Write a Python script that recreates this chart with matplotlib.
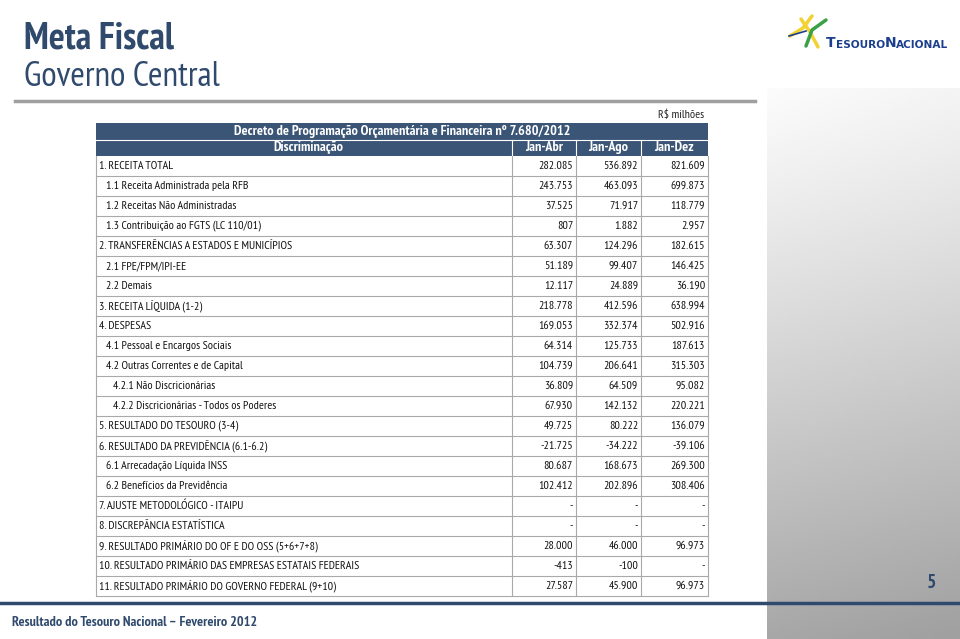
import numpy as np
import matplotlib
matplotlib.use("Agg")
import matplotlib.pyplot as plt

# fonte condensada parecida com a do slide, com alternativas
plt.rcParams['font.family'] = ['PT Sans Narrow', 'Fira Sans Condensed', 'Asap Condensed',
                               'Barlow Condensed', 'Liberation Sans', 'DejaVu Sans']

BLUE = '#2f4a6d'
HEAD = '#3b5577'
GRID = '#a9a9a9'
LOGO = '#1b3f8e'

# dados da tabela
labels = [
    "1. RECEITA TOTAL",
    "1.1 Receita Administrada pela RFB",
    "1.2 Receitas Não Administradas",
    "1.3 Contribuição ao FGTS (LC 110/01)",
    "2. TRANSFERÊNCIAS A ESTADOS E MUNICÍPIOS",
    "2.1 FPE/FPM/IPI-EE",
    "2.2 Demais",
    "3. RECEITA LÍQUIDA (1-2)",
    "4. DESPESAS",
    "4.1 Pessoal e Encargos Sociais",
    "4.2 Outras Correntes e de Capital",
    "4.2.1 Não Discricionárias",
    "4.2.2 Discricionárias - Todos os Poderes",
    "5. RESULTADO DO TESOURO (3-4)",
    "6. RESULTADO DA PREVIDÊNCIA (6.1-6.2)",
    "6.1 Arrecadação Líquida INSS",
    "6.2 Benefícios da Previdência",
    "7. AJUSTE METODOLÓGICO - ITAIPU",
    "8. DISCREPÂNCIA ESTATÍSTICA",
    "9. RESULTADO PRIMÁRIO DO OF E DO OSS (5+6+7+8)",
    "10. RESULTADO PRIMÁRIO DAS EMPRESAS ESTATAIS FEDERAIS",
    "11. RESULTADO PRIMÁRIO DO GOVERNO FEDERAL (9+10)",
]
levels = [0, 1, 1, 1, 0, 1, 1, 0, 0, 1, 1, 2, 2, 0, 0, 1, 1, 0, 0, 0, 0, 0]
jan_abr = ["282.085", "243.753", "37.525", "807", "63.307", "51.189", "12.117", "218.778",
           "169.053", "64.314", "104.739", "36.809", "67.930", "49.725", "-21.725", "80.687",
           "102.412", "-", "-", "28.000", "-413", "27.587"]
jan_ago = ["536.892", "463.093", "71.917", "1.882", "124.296", "99.407", "24.889", "412.596",
           "332.374", "125.733", "206.641", "64.509", "142.132", "80.222", "-34.222", "168.673",
           "202.896", "-", "-", "46.000", "-100", "45.900"]
jan_dez = ["821.609", "699.873", "118.779", "2.957", "182.615", "146.425", "36.190", "638.994",
           "502.916", "187.613", "315.303", "95.082", "220.221", "136.079", "-39.106", "269.300",
           "308.406", "-", "-", "96.973", "-", "96.973"]
periods = ["Jan-Abr", "Jan-Ago", "Jan-Dez"]

fig = plt.figure(figsize=(9.6, 6.39), dpi=100)
ax = fig.add_axes([0, 0, 1, 1])
ax.set_xlim(0, 960)
ax.set_ylim(639, 0)
ax.axis('off')

# painel cinza a direita
gy = np.linspace(0, 1, 200)[:, None]
gx = np.linspace(0, 1, 60)[None, :]
grad = np.clip(0.985 - 0.33 * gy ** 1.1 - 0.03 * gx, 0, 1)
ax.imshow(grad, cmap='gray', vmin=0, vmax=1, extent=[767, 960, 639, 88],
          aspect='auto', zorder=0, interpolation='bilinear')

# titulo
ax.text(24, 39, "Meta Fiscal", fontsize=27, fontweight='bold', color=BLUE, va='center')
ax.text(24, 77, "Governo Central", fontsize=25.5, color=BLUE, va='center')
ax.plot([15, 755], [101, 101], color='#a0a0a0', lw=2.5, zorder=2)

# logo (versaletes montados em sequencia)
prev = ax.text(826, 47, "T", fontsize=10, fontweight='bold', color=LOGO,
               va='baseline', family='DejaVu Sans')
for part, size in [("ESOURO", 7.6), ("N", 10), ("ACIONAL", 7.6)]:
    prev = ax.annotate(part, xy=(1, 0), xycoords=prev, fontsize=size, fontweight='bold',
                       color=LOGO, va='bottom', ha='left', family='DejaVu Sans')
ax.plot([790, 803, 812], [36, 28, 16], color='#f2d230', lw=2.5, solid_capstyle='round')
ax.plot([801, 810, 818], [19, 32, 47], color='#f2d230', lw=2.5, solid_capstyle='round')
ax.plot([806, 812, 826], [46, 30, 20], color='#3aa048', lw=2.5, solid_capstyle='round')
ax.plot([789, 806], [36, 31], color=LOGO, lw=1.2)

# tabela
x0, x1, x2, x3, x4 = 96, 512, 576, 641, 708
top = 123
hh = 16.5
rh = 20
fs = 8.6
hfs = 10.2
ax.text(x4 - 4, 115, "R$ milhões", fontsize=fs, ha='right', va='center', color='#222222')
ax.add_patch(plt.Rectangle((x0, top), x4 - x0, 2 * hh, facecolor=HEAD, edgecolor='none'))
ax.text((x0 + x4) / 2 + 0.5, top + hh / 2, "Decreto de Programação Orçamentária e Financeira nº 7.680/2012",
        fontsize=hfs, fontweight='bold', color='white', ha='center', va='center')
ax.plot([x0, x4], [top + hh, top + hh], color='white', lw=0.8)
ax.text((x0 + x1) / 2 + 4, top + 1.5 * hh, "Discriminação", fontsize=hfs, fontweight='bold',
        color='white', ha='center', va='center')
cols = [x1, x2, x3, x4]
for i, p in enumerate(periods):
    ax.text((cols[i] + cols[i + 1]) / 2, top + 1.5 * hh, p, fontsize=hfs, fontweight='bold',
            color='white', ha='center', va='center')
for xc in [x1, x2, x3]:
    ax.plot([xc, xc], [top + hh, top + 2 * hh], color='white', lw=0.8)

y_start = top + 2 * hh
n = len(labels)
for i in range(n):
    yc = y_start + (i + 0.5) * rh
    ax.text(x0 + 3 + 7 * levels[i], yc, labels[i], fontsize=fs, color='#111111', va='center')
    for j, vals in enumerate([jan_abr, jan_ago, jan_dez]):
        ax.text(cols[j + 1] - 3, yc, vals[i], fontsize=fs, color='#111111',
                ha='right', va='center')
    ax.plot([x0, x4], [y_start + (i + 1) * rh] * 2, color=GRID, lw=0.8)
y_end = y_start + n * rh
for xc in [x0, x1, x2, x3, x4]:
    ax.plot([xc, xc], [y_start, y_end], color=GRID, lw=0.8)

# rodape
ax.plot([0, 960], [603, 603], color=BLUE, lw=2.5, zorder=3)
ax.text(12, 622, "Resultado do Tesouro Nacional – Fevereiro 2012", fontsize=10.2,
        fontweight='bold', color=BLUE, va='center')
ax.text(932, 583, "5", fontsize=14, fontweight='bold', color=BLUE, ha='center', va='center')

fig.savefig("out.png", dpi=100)
